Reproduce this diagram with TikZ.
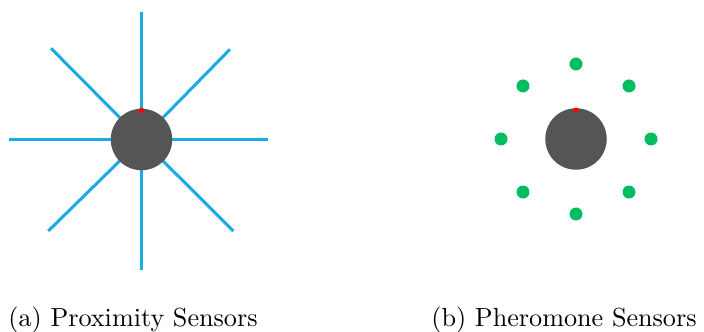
\documentclass[tikz,border=0pt]{standalone}
\usetikzlibrary{calc}
\definecolor{sensorblue}{RGB}{27,170,230}
\definecolor{pherogreen}{RGB}{0,188,98}
\definecolor{robotgray}{RGB}{85,85,85}
\definecolor{headred}{RGB}{255,0,0}
\begin{document}
\begin{tikzpicture}[x=0.3824pt,y=-0.3824pt,
  robot/.style={circle,fill=robotgray,draw=none,minimum size=61.5*0.3824pt,inner sep=0pt},
  head/.style={circle,fill=headred,draw=none,minimum size=5.5*0.3824pt,inner sep=0pt},
  pdot/.style={circle,fill=pherogreen,draw=none,minimum size=13*0.3824pt,inner sep=0pt},
  ray/.style={draw=sensorblue,line width=1.15pt},
  caption/.style={inner sep=0pt,anchor=base}]
\useasboundingbox (0,0) rectangle (704,332);
% (a) proximity sensors
\coordinate (ac) at (141.5,139.5);
\coordinate (aN) at (141.5,12);
\coordinate (aS) at (141.5,270);
\coordinate (aW) at (8.7,139.5);
\coordinate (aE) at (267.7,139.5);
\coordinate (aNW) at (51,48.3);
\coordinate (aNE) at (230,49.3);
\coordinate (aSW) at (48.3,231);
\coordinate (aSE) at (233.3,231);
\foreach \e in {aN,aS,aW,aE,aNW,aNE,aSW,aSE}
  \draw[ray] (ac) -- (\e);
\node[robot] (ra) at (ac) {};
\node[head] (ha) at (141.5,110.3) {};
% (b) pheromone sensors
\node[robot] (rb) at (576,139) {};
\node[head] (hb) at (576,110.3) {};
\foreach \a/\n in {-90/N,-45/NE,0/E,45/SE,90/S,135/SW,180/W,-135/NW}
  \node[pdot] (p\n) at ($(rb.center)+(\a:75)$) {};
% captions
\node[caption] (capa) at (133,326) {(a) Proximity Sensors};
\node[caption] (capb) at (564,326) {(b) Pheromone Sensors};
\end{tikzpicture}
\end{document}
